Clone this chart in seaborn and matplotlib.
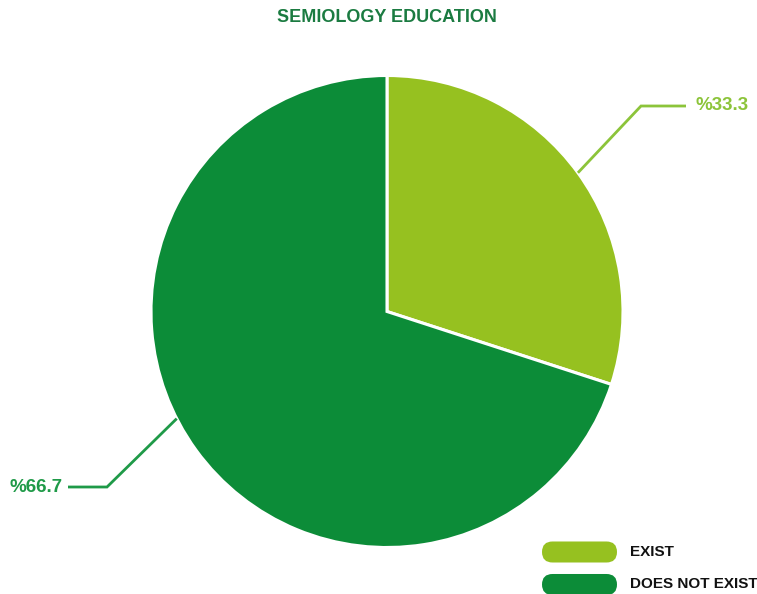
import numpy as np
import matplotlib
matplotlib.use("Agg")
import matplotlib.pyplot as plt
from matplotlib.patches import FancyBboxPatch
import seaborn as sns

# ---- data ----
categories = ["EXIST", "DOES NOT EXIST"]
shares = [30.0, 70.0]              # slice sizes as drawn in the picture
value_labels = ["%33.3", "%66.7"]  # labels as printed
title = "SEMIOLOGY EDUCATION"

# ---- style ----
sns.set_theme(style="white")
plt.rcParams["font.family"] = ["Liberation Sans", "DejaVu Sans"]
colors = ["#96c120", "#0c8c38"]
label_colors = ["#8cc43a", "#1f9a48"]
title_color = "#1b7b41"

W, H = 757, 594
fig = plt.figure(figsize=(W / 100, H / 100), dpi=100)
ax = fig.add_axes([0, 0, 1, 1])

cx, cy, r = 387, H - 311.5, 236
ax.pie(shares, colors=colors, startangle=90, counterclock=False,
       center=(cx, cy), radius=r, frame=True,
       wedgeprops=dict(edgecolor="white", linewidth=2.2))
ax.set_xlim(0, W)
ax.set_ylim(0, H)
ax.set_aspect("equal")
ax.axis("off")

# leader lines with labels
anchor_angles = [36, -153]
elbows = [(641, H - 106), (107, H - 487)]
ends = [(686, H - 106), (68, H - 487)]
text_x = [695, 63]
aligns = ["left", "right"]
for i in range(len(categories)):
    a = np.deg2rad(anchor_angles[i])
    ax0, ay0 = cx + r * np.cos(a), cy + r * np.sin(a)
    ex, ey = elbows[i]
    hx, hy = ends[i]
    ax.plot([ax0, ex, hx], [ay0, ey, hy], color=label_colors[i], lw=2.0,
            solid_capstyle="butt", solid_joinstyle="miter")
    ax.text(text_x[i], hy, value_labels[i], color=label_colors[i],
            fontsize=13.5, fontweight="bold", ha=aligns[i], va="center")

# title
ax.text(387, H - 18, title, color=title_color, fontsize=13, fontweight="bold",
        ha="center", va="center")

# legend (rounded pill markers)
leg_y = [H - 552, H - 584.5]
for i, cat in enumerate(categories):
    pill = FancyBboxPatch((542 + 10.5, leg_y[i]), 54, 0.01,
                          boxstyle="round,pad=10.5", facecolor=colors[i],
                          edgecolor="none")
    ax.add_patch(pill)
    ax.text(630, leg_y[i], cat, color="#111111", fontsize=11,
            fontweight="bold", ha="left", va="center")

fig.savefig("out.png", dpi=100)
